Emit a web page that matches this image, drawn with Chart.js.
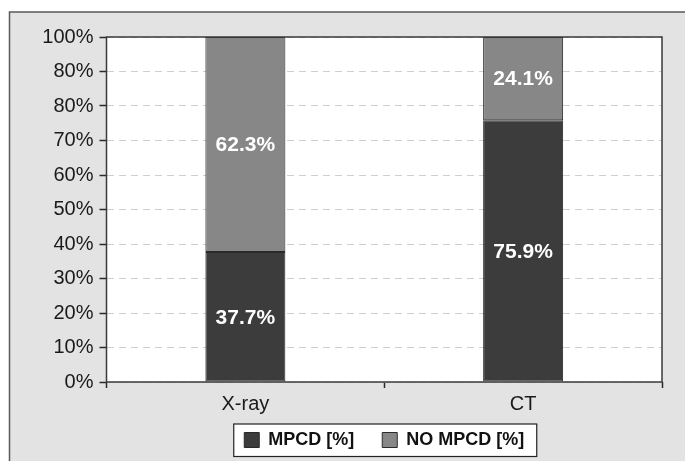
<!DOCTYPE html>
<html>
<head>
<meta charset="utf-8">
<script src="https://cdn.jsdelivr.net/npm/chart.js@4/dist/chart.umd.min.js"></script>
<style>
  html, body { margin: 0; padding: 0; background: #ffffff; }
  canvas { display: block; }
</style>
</head>
<body>
<canvas id="chart" width="685" height="461"></canvas>
<script>
// Share of cases with and without MPCD by imaging method
const categories = ['X-ray', 'CT'];
const mpcd = [37.7, 75.9];
const noMpcd = [62.3, 24.1];
const seriesNames = ['MPCD [%]', 'NO MPCD [%]'];
// Y-axis tick labels, one per 10% step
const yTickLabels = ['0%', '10%', '20%', '30%', '40%', '50%', '60%', '70%', '80%', '80%', '100%'];

const FONT = '"Liberation Sans", Arial, Helvetica, sans-serif';
const LEGEND_LIFT = 11; // pulls the legend row up over the lower part of the x-axis band

// Grey panel behind the chart, white plot area and framed legend
const backdrop = {
  id: 'backdrop',
  afterLayout(chart) {
    const lg = chart.legend;
    if (lg) {
      lg.top -= LEGEND_LIFT;
      lg.bottom -= LEGEND_LIFT;
    }
  },
  beforeDraw(chart) {
    const ctx = chart.ctx;
    const a = chart.chartArea;
    ctx.save();
    ctx.fillStyle = '#e3e3e3';
    ctx.fillRect(9.5, 12, 700, 480);
    ctx.strokeStyle = '#5a5a5a';
    ctx.lineWidth = 1.5;
    ctx.strokeRect(9.5, 12, 700, 480);
    ctx.fillStyle = '#ffffff';
    ctx.fillRect(a.left, a.top, a.right - a.left, a.bottom - a.top);

    const boxes = chart.legend && chart.legend.legendHitBoxes;
    if (boxes && boxes.length) {
      const first = boxes[0], last = boxes[boxes.length - 1];
      const x0 = first.left - 10.5;
      const x1 = last.left + last.width + 12.5;
      const y0 = first.top - 7;
      const y1 = first.top + first.height + 7.5;
      ctx.fillStyle = '#ffffff';
      ctx.fillRect(x0, y0, x1 - x0, y1 - y0);
      ctx.strokeStyle = '#222222';
      ctx.lineWidth = 1.2;
      ctx.strokeRect(x0, y0, x1 - x0, y1 - y0);
    }
    ctx.restore();
  },
  afterDatasetsDraw(chart) {
    const ctx = chart.ctx;
    const a = chart.chartArea;
    ctx.save();
    ctx.strokeStyle = '#3a3a3a';
    ctx.lineWidth = 1.5;
    ctx.strokeRect(a.left, a.top, a.right - a.left, a.bottom - a.top);
    ctx.restore();
  }
};

// Percentage written in the middle of every bar segment
const segmentLabels = {
  id: 'segmentLabels',
  afterDraw(chart) {
    const ctx = chart.ctx;
    ctx.save();
    ctx.fillStyle = '#ffffff';
    ctx.font = 'bold 21px ' + FONT;
    ctx.textAlign = 'center';
    ctx.textBaseline = 'middle';
    chart.data.datasets.forEach((ds, di) => {
      const meta = chart.getDatasetMeta(di);
      meta.data.forEach((bar, i) => {
        const v = ds.data[i];
        const cy = (bar.y + bar.base) / 2;
        ctx.fillText(v.toFixed(1) + '%', bar.x, cy + 1);
      });
    });
    ctx.restore();
  }
};

new Chart(document.getElementById('chart'), {
  type: 'bar',
  data: {
    labels: categories,
    datasets: [
      {
        label: seriesNames[0],
        data: mpcd,
        backgroundColor: '#3c3c3c',
        borderColor: '#2a2a2a',
        borderWidth: 1,
        borderSkipped: false,
        barPercentage: 0.288,
        categoryPercentage: 1
      },
      {
        label: seriesNames[1],
        data: noMpcd,
        backgroundColor: '#878787',
        borderColor: '#2a2a2a',
        borderWidth: 1,
        borderSkipped: false,
        barPercentage: 0.288,
        categoryPercentage: 1
      }
    ]
  },
  options: {
    responsive: false,
    animation: false,
    devicePixelRatio: 1,
    layout: { padding: { top: 37, right: 23, bottom: -9, left: 0 } },
    plugins: {
      tooltip: { enabled: false },
      legend: {
        position: 'bottom',
        fullSize: false,
        labels: {
          boxWidth: 15,
          boxHeight: 15,
          padding: 28,
          color: '#111111',
          font: { family: FONT, size: 18, weight: 'bold' }
        }
      }
    },
    scales: {
      x: {
        stacked: true,
        offset: true,
        afterFit(scale) { scale.height = 32; },
        grid: {
          display: true,
          offset: true,
          drawOnChartArea: false,
          drawTicks: true,
          tickLength: 6,
          tickColor: '#2a2a2a',
          tickWidth: 1.5
        },
        border: { display: false },
        ticks: {
          color: '#1a1a1a',
          padding: 4,
          font: { family: FONT, size: 20 }
        }
      },
      y: {
        stacked: true,
        min: 0,
        max: 100,
        afterFit(scale) { scale.width = 106.5; },
        grid: {
          color: '#cfcfcf',
          lineWidth: 1,
          tickLength: 7,
          tickColor: '#2a2a2a',
          tickWidth: 1.5,
          tickBorderDash: []
        },
        border: { display: false, dash: [7, 5] },
        ticks: {
          stepSize: 10,
          padding: 6,
          color: '#1a1a1a',
          font: { family: FONT, size: 20 },
          callback(value) { return yTickLabels[Math.round(value / 10)]; }
        }
      }
    }
  },
  plugins: [backdrop, segmentLabels]
});
</script>
</body>
</html>
